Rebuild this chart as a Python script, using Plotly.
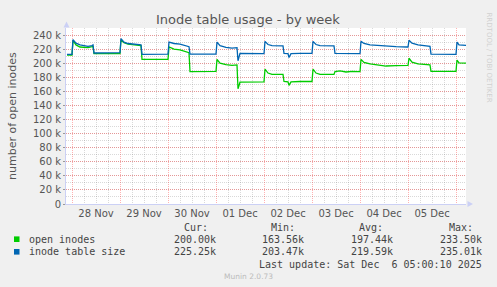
import plotly.graph_objects as go

# ---------------- data (values in thousands) ----------------
times = [
    "2025-11-27 21:30", "2025-11-27 23:30", "2025-11-28 00:00", "2025-11-28 00:30",
    "2025-11-28 02:00", "2025-11-28 04:00", "2025-11-28 06:00", "2025-11-28 08:00",
    "2025-11-28 10:00", "2025-11-28 10:30", "2025-11-28 11:00", "2025-11-28 16:00",
    "2025-11-28 23:30", "2025-11-29 00:00", "2025-11-29 00:30", "2025-11-29 02:00",
    "2025-11-29 04:00", "2025-11-29 08:00", "2025-11-29 10:30", "2025-11-29 11:00",
    "2025-11-29 18:00", "2025-11-29 23:30", "2025-11-30 00:00", "2025-11-30 00:30",
    "2025-11-30 03:00", "2025-11-30 06:00", "2025-11-30 09:00", "2025-11-30 10:30",
    "2025-11-30 11:00", "2025-11-30 18:00", "2025-11-30 23:30", "2025-12-01 00:00",
    "2025-12-01 00:30", "2025-12-01 02:00", "2025-12-01 05:00", "2025-12-01 08:00",
    "2025-12-01 10:30", "2025-12-01 11:00", "2025-12-01 12:00", "2025-12-01 18:00",
    "2025-12-01 23:30", "2025-12-02 00:00", "2025-12-02 00:30", "2025-12-02 02:00",
    "2025-12-02 04:00", "2025-12-02 09:30", "2025-12-02 10:00", "2025-12-02 12:00",
    "2025-12-02 12:30", "2025-12-02 13:30", "2025-12-02 18:00", "2025-12-02 23:30",
    "2025-12-03 00:00", "2025-12-03 00:30", "2025-12-03 02:00", "2025-12-03 04:00",
    "2025-12-03 11:00", "2025-12-03 11:30", "2025-12-03 14:00", "2025-12-03 17:00",
    "2025-12-03 20:00", "2025-12-03 23:30", "2025-12-04 00:00", "2025-12-04 00:30",
    "2025-12-04 02:00", "2025-12-04 05:00", "2025-12-04 09:00", "2025-12-04 13:00",
    "2025-12-04 18:00", "2025-12-04 23:30", "2025-12-05 00:00", "2025-12-05 00:30",
    "2025-12-05 02:00", "2025-12-05 05:00", "2025-12-05 09:00", "2025-12-05 11:00",
    "2025-12-05 11:30", "2025-12-05 18:00", "2025-12-05 23:30", "2025-12-06 00:00",
    "2025-12-06 00:30", "2025-12-06 01:30", "2025-12-06 05:00",
]

inode_table_size_k = [
    212.5, 213.0, 212.5, 233.5,
    228.5, 226.0, 225.5, 224.0,
    225.0, 226.0, 214.5, 215.0,
    215.0, 215.0, 235.0, 230.0,
    228.0, 226.5, 226.0, 212.5,
    212.5, 212.5, 213.0, 230.0,
    228.0, 227.0, 225.0, 223.5,
    213.0, 213.0, 213.0, 213.0,
    230.0, 225.0, 222.5, 221.5,
    222.0, 203.5, 214.0, 214.0,
    213.5, 213.5, 231.0, 226.5,
    225.0, 224.5, 214.0, 213.5,
    208.0, 213.5, 214.0, 214.0,
    214.0, 231.0, 226.5, 225.0,
    224.5, 214.0, 214.0, 213.0,
    213.0, 213.5, 213.5, 231.0,
    228.0, 226.0, 225.0, 224.5,
    223.5, 223.0, 223.0, 232.5,
    228.5, 226.0, 224.5, 224.0,
    213.0, 212.5, 212.5, 212.5,
    230.0, 226.0, 225.25,
]

open_inodes_k = [
    211.5, 211.5, 211.5, 232.5,
    226.0, 223.0, 222.5, 222.0,
    223.5, 224.0, 213.5, 213.5,
    213.5, 213.5, 233.5, 229.0,
    227.0, 226.0, 225.0, 205.5,
    205.5, 205.5, 205.5, 223.0,
    220.0, 219.0, 217.0, 215.0,
    188.0, 188.5, 188.5, 188.5,
    205.5, 200.0, 198.0, 197.0,
    197.5, 163.6, 173.0, 173.5,
    173.5, 173.5, 191.5, 186.0,
    184.0, 184.0, 174.0, 173.5,
    168.5, 173.5, 174.0, 174.0,
    174.0, 191.5, 186.0, 184.0,
    184.0, 188.0, 189.0, 187.5,
    188.5, 188.0, 188.0, 205.5,
    201.0, 199.0, 197.5, 196.0,
    196.5, 197.0, 197.0, 207.0,
    201.5, 199.0, 198.0, 197.5,
    188.5, 188.5, 188.5, 188.5,
    204.5, 200.5, 200.0,
]

y_tick_vals = [0, 20, 40, 60, 80, 100, 120, 140, 160, 180, 200, 220, 240]
y_tick_text = ["0", "20 k", "40 k", "60 k", "80 k", "100 k", "120 k", "140 k",
               "160 k", "180 k", "200 k", "220 k", "240 k"]

series_names = ["open inodes", "inode table size"]
series_colors = ["#00CC00", "#0066B3"]
stat_headers = ["Cur:", "Min:", "Avg:", "Max:"]
open_inodes_stats = ["200.00k", "163.56k", "197.44k", "233.50k"]
inode_table_size_stats = ["225.25k", "203.47k", "219.59k", "235.01k"]

title_text = "Inode table usage - by week"
y_title_text = "number of open inodes"
last_update_text = "Last update: Sat Dec\u00a0 6 05:00:10 2025"
footer_text = "Munin 2.0.73"
side_text = "RRDTOOL / TOBI OETIKER"

x_range = ["2025-11-27 21:00", "2025-12-06 05:00"]

# ---------------- layout geometry ----------------
W, H = 497, 287
L, R, T, B = 66, 466, 28, 204


def px(x):
    return (x - L) / (R - L)


def py(y):
    return (B - y) / (B - T)


fig = go.Figure()
fig.add_trace(go.Scatter(x=times, y=open_inodes_k, mode="lines",
                         line=dict(color=series_colors[0], width=1.3),
                         name=series_names[0], showlegend=False))
fig.add_trace(go.Scatter(x=times, y=inode_table_size_k, mode="lines",
                         line=dict(color=series_colors[1], width=1.3),
                         name=series_names[1], showlegend=False))

axis_col = "#CBD0F5"
major_grid = "rgba(255,0,0,0.30)"
minor_grid = "rgba(120,120,120,0.28)"
tick_font = dict(family="DejaVu Sans", size=10, color="#555555")

fig.update_xaxes(
    type="date", range=x_range,
    tick0="2025-11-28 00:00", dtick=86400000,
    tickformat="%d %b", ticklabelmode="period",
    showgrid=True, gridcolor=major_grid, griddash="1px,1px", gridwidth=1,
    minor=dict(dtick=6 * 3600000, tick0="2025-11-28 00:00", showgrid=True,
               gridcolor=minor_grid, griddash="1px,1px", ticks=""),
    showline=True, linecolor=axis_col, linewidth=1,
    ticks="", tickfont=tick_font, zeroline=False,
)
fig.update_yaxes(
    range=[0, 250], tickmode="array", tickvals=y_tick_vals, ticktext=y_tick_text,
    showgrid=True, gridcolor=major_grid, griddash="1px,1px", gridwidth=1,
    minor=dict(tickmode="linear", tick0=0, dtick=10, showgrid=True,
               gridcolor=minor_grid, griddash="1px,1px", ticks=""),
    showline=True, linecolor=axis_col, linewidth=1,
    ticks="outside", ticklen=2, tickcolor="#999999",
    tickfont=tick_font, zeroline=False,
)

ann = []
ann.append(dict(text=title_text, x=px(248), y=py(19), xref="paper", yref="paper",
                xanchor="center", yanchor="middle", showarrow=False,
                font=dict(family="DejaVu Sans", size=13, color="#555555")))
ann.append(dict(text=y_title_text, x=px(12), y=py(116), xref="paper", yref="paper",
                xanchor="center", yanchor="middle", showarrow=False, textangle=-90,
                font=dict(family="DejaVu Sans", size=11, color="#555555")))
ann.append(dict(text=side_text, x=px(488.5), y=py(58), xref="paper", yref="paper",
                xanchor="center", yanchor="middle", showarrow=False, textangle=90,
                font=dict(family="DejaVu Sans", size=7, color="#D0D0D0")))

mono = dict(family="DejaVu Sans Mono", size=10, color="#444444")
header_x = [181.7, 269, 357, 447]
value_right_x = [217.5, 306, 394.5, 483.5]
for hx, htxt in zip(header_x, stat_headers):
    ann.append(dict(text=htxt, x=px(hx), y=py(227.7), xref="paper", yref="paper",
                    xanchor="left", yanchor="middle", showarrow=False, font=mono))
for row_y, name, stats in [(239.3, series_names[0], open_inodes_stats),
                           (251.7, series_names[1], inode_table_size_stats)]:
    ann.append(dict(text=name, x=px(26.5), y=py(row_y), xref="paper", yref="paper",
                    xanchor="left", yanchor="middle", showarrow=False, font=mono))
    for vx, vtxt in zip(value_right_x, stats):
        ann.append(dict(text=vtxt, x=px(vx), y=py(row_y), xref="paper", yref="paper",
                        xanchor="right", yanchor="middle", showarrow=False, font=mono))
ann.append(dict(text=last_update_text, x=px(483.5), y=py(264), xref="paper", yref="paper",
                xanchor="right", yanchor="middle", showarrow=False, font=mono))
ann.append(dict(text=footer_text, x=px(248), y=py(276.5), xref="paper", yref="paper",
                xanchor="center", yanchor="middle", showarrow=False,
                font=dict(family="DejaVu Sans", size=7.5, color="#BBBBBB")))

shapes = []
for sq_y, col in [(239.2, series_colors[0]), (251.8, series_colors[1])]:
    shapes.append(dict(type="rect", xref="paper", yref="paper",
                       x0=px(14), x1=px(19.5), y0=py(sq_y - 2.8), y1=py(sq_y + 2.8),
                       fillcolor=col, line=dict(width=0)))
# axis arrows
shapes.append(dict(type="path", xref="paper", yref="paper",
                   path="M {} {} L {} {} L {} {} Z".format(px(63.5), py(27.5), px(66.5), py(21.5), px(69.5), py(27.5)),
                   fillcolor=axis_col, line=dict(width=0)))
shapes.append(dict(type="path", xref="paper", yref="paper",
                   path="M {} {} L {} {} L {} {} Z".format(px(467.5), py(201), px(473), py(204), px(467.5), py(207)),
                   fillcolor=axis_col, line=dict(width=0)))

fig.update_layout(
    width=W, height=H,
    margin=dict(l=L, r=W - R, t=T, b=H - B, pad=0),
    paper_bgcolor="#F0F0F0", plot_bgcolor="#FFFFFF",
    annotations=ann, shapes=shapes, showlegend=False,
)

fig.write_html("out.html")
